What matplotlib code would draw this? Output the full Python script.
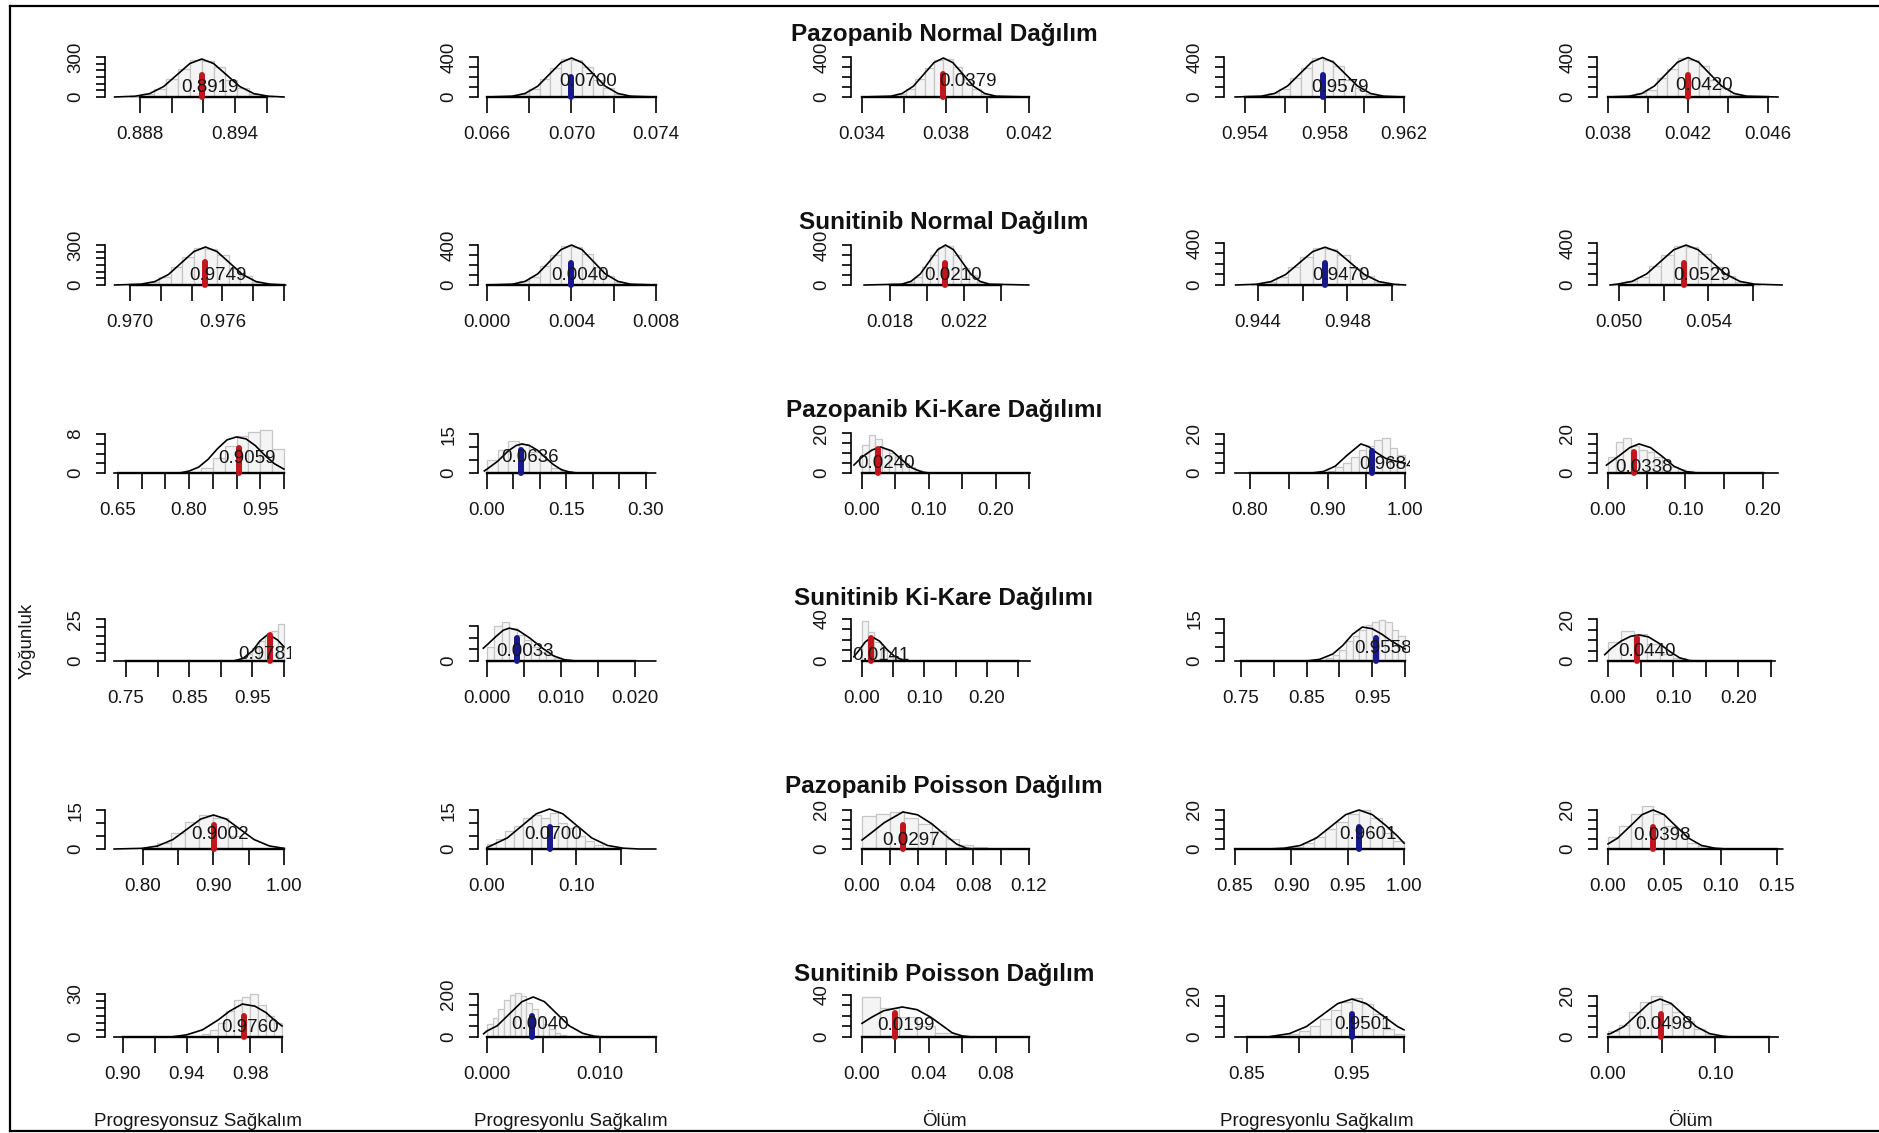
import numpy as np
import matplotlib
matplotlib.use('Agg')
import matplotlib.pyplot as plt
from matplotlib.lines import Line2D
from matplotlib.transforms import Bbox, TransformedBbox

plt.rcParams['font.family'] = ['Liberation Sans', 'DejaVu Sans']

# ---- text ----
row_titles = ['Pazopanib Normal Dağılım', 'Sunitinib Normal Dağılım',
              'Pazopanib Ki-Kare Dağılımı', 'Sunitinib Ki-Kare Dağılımı',
              'Pazopanib Poisson Dağılım', 'Sunitinib Poisson Dağılım']
col_xlabels = ['Progresyonsuz Sağkalım', 'Progresyonlu Sağkalım', 'Ölüm',
               'Progresyonlu Sağkalım', 'Ölüm']
y_title = 'Yoğunluk'

# ---- panels, row by row (6 rows x 5 cols) ----
x_limits = [
    (0.88579, 0.89754), (0.065574, 0.074379), (0.033473, 0.042383), (0.952943, 0.962302), (0.03745, 0.04675),
    (0.968377, 0.980455), (-0.000426, 0.008379), (0.015892, 0.025946), (0.942478, 0.950806), (0.049015, 0.057343),
    (0.62257, 1.01497), (-0.01698, 0.3340), (-0.01647, 0.26198), (0.76645, 1.00645), (-0.01419, 0.22581),
    (0.71677, 1.01108), (-0.001216, 0.023919), (-0.01763, 0.28045), (0.72409, 1.00763), (-0.01687, 0.26841),
    (0.7461, 1.00993), (-0.01008, 0.19821), (-0.0079, 0.12572), (0.84024, 1.00528), (-0.00976, 0.15528),
    (0.88868, 1.00566), (-0.0008, 0.01571), (-0.00659, 0.10479), (0.82803, 1.00568), (-0.01025, 0.16310),
]

x_ticks = [
    [0.888, 0.890, 0.892, 0.894, 0.896], [0.066, 0.068, 0.070, 0.072, 0.074], [0.034, 0.036, 0.038, 0.040, 0.042],
    [0.954, 0.956, 0.958, 0.960, 0.962], [0.038, 0.040, 0.042, 0.044, 0.046],
    [0.970, 0.972, 0.974, 0.976, 0.978, 0.980], [0.000, 0.002, 0.004, 0.006, 0.008], [0.018, 0.020, 0.022, 0.024],
    [0.944, 0.946, 0.948, 0.950], [0.050, 0.052, 0.054, 0.056],
    [0.65, 0.70, 0.75, 0.80, 0.85, 0.90, 0.95, 1.00], [0, 0.05, 0.10, 0.15, 0.20, 0.25, 0.30],
    [0, 0.05, 0.10, 0.15, 0.20, 0.25], [0.80, 0.85, 0.90, 0.95, 1.00], [0, 0.05, 0.10, 0.15, 0.20],
    [0.75, 0.80, 0.85, 0.90, 0.95, 1.00], [0, 0.005, 0.010, 0.015, 0.020], [0, 0.05, 0.10, 0.15, 0.20, 0.25],
    [0.75, 0.80, 0.85, 0.90, 0.95, 1.00], [0, 0.05, 0.10, 0.15, 0.20, 0.25],
    [0.80, 0.85, 0.90, 0.95, 1.00], [0, 0.05, 0.10, 0.15], [0, 0.02, 0.04, 0.06, 0.08, 0.10, 0.12],
    [0.85, 0.90, 0.95, 1.00], [0, 0.05, 0.10, 0.15],
    [0.90, 0.92, 0.94, 0.96, 0.98, 1.00], [0, 0.005, 0.010, 0.015], [0, 0.02, 0.04, 0.06, 0.08, 0.10],
    [0.85, 0.90, 0.95, 1.00], [0, 0.05, 0.10, 0.15],
]

x_labels = [
    ['0.888', '', '', '0.894', ''], ['0.066', '', '0.070', '', '0.074'], ['0.034', '', '0.038', '', '0.042'],
    ['0.954', '', '0.958', '', '0.962'], ['0.038', '', '0.042', '', '0.046'],
    ['0.970', '', '', '0.976', '', ''], ['0.000', '', '0.004', '', '0.008'], ['0.018', '', '0.022', ''],
    ['0.944', '', '0.948', ''], ['0.050', '', '0.054', ''],
    ['0.65', '', '', '0.80', '', '', '0.95', ''], ['0.00', '', '', '0.15', '', '', '0.30'],
    ['0.00', '', '0.10', '', '0.20', ''], ['0.80', '', '0.90', '', '1.00'], ['0.00', '', '0.10', '', '0.20'],
    ['0.75', '', '0.85', '', '0.95', ''], ['0.000', '', '0.010', '', '0.020'], ['0.00', '', '0.10', '', '0.20', ''],
    ['0.75', '', '0.85', '', '0.95', ''], ['0.00', '', '0.10', '', '0.20', ''],
    ['0.80', '', '0.90', '', '1.00'], ['0.00', '', '0.10', ''], ['0.00', '', '0.04', '', '0.08', '', '0.12'],
    ['0.85', '0.90', '0.95', '1.00'], ['0.00', '0.05', '0.10', '0.15'],
    ['0.90', '', '0.94', '', '0.98', ''], ['0.000', '', '0.010', ''], ['0.00', '', '0.04', '', '0.08', ''],
    ['0.85', '', '0.95', ''], ['0.00', '', '0.10', ''],
]

y_tops = [
    360, 480, 480, 480, 480,
    360, 480, 480, 457, 457,
    9.85, 18.5, 24, 24.6, 24.6,
    28.6, 206, 45.7, 17.1, 22.9,
    18.5, 18.5, 24.6, 24.6, 24.6,
    33.5, 223, 45.7, 23.4, 23.4,
]

y_ticks = [
    [0, 50, 100, 150, 200, 250, 300], [0, 100, 200, 300, 400], [0, 100, 200, 300, 400], [0, 100, 200, 300, 400], [0, 100, 200, 300, 400],
    [0, 50, 100, 150, 200, 250, 300], [0, 100, 200, 300, 400], [0, 100, 200, 300, 400], [0, 100, 200, 300, 400], [0, 100, 200, 300, 400],
    [0, 2, 4, 6, 8], [0, 5, 10, 15], [0, 5, 10, 15, 20], [0, 5, 10, 15, 20], [0, 5, 10, 15, 20],
    [0, 5, 10, 15, 20, 25], [0, 50, 100, 150], [0, 10, 20, 30, 40], [0, 5, 10, 15], [0, 5, 10, 15, 20],
    [0, 5, 10, 15], [0, 5, 10, 15], [0, 5, 10, 15, 20], [0, 5, 10, 15, 20], [0, 5, 10, 15, 20],
    [0, 5, 10, 15, 20, 25, 30], [0, 50, 100, 150, 200], [0, 10, 20, 30, 40], [0, 5, 10, 15, 20], [0, 5, 10, 15, 20],
]

y_top_labels = [
    '300', '400', '400', '400', '400',
    '300', '400', '400', '400', '400',
    '8', '15', '20', '20', '20',
    '25', '', '40', '15', '20',
    '15', '15', '20', '20', '20',
    '30', '200', '40', '20', '20',
]

curve_x = [
    [0.8864, 0.8877, 0.8886, 0.8895, 0.8904, 0.89115, 0.8919, 0.89265, 0.8934, 0.8943, 0.8952, 0.8961, 0.8971],
    [0.066, 0.0672, 0.0678, 0.0684, 0.0690, 0.0695, 0.0700, 0.0705, 0.0710, 0.0716, 0.0722, 0.0728, 0.074],
    [0.034, 0.03538, 0.03592, 0.03646, 0.0370, 0.03745, 0.0379, 0.03835, 0.0388, 0.03934, 0.03988, 0.04042, 0.042],
    [0.9535, 0.95482, 0.95548, 0.95614, 0.9568, 0.95735, 0.9579, 0.95845, 0.9590, 0.95966, 0.96032, 0.96098, 0.9620],
    [0.0380, 0.03906, 0.03969, 0.04032, 0.04095, 0.04148, 0.0420, 0.04253, 0.04305, 0.04368, 0.04431, 0.04494, 0.0465],
    [0.9690, 0.9707, 0.9716, 0.9725, 0.9734, 0.97415, 0.9749, 0.97565, 0.9764, 0.9773, 0.9782, 0.9791, 0.9801],
    [0.0, 0.0012, 0.0018, 0.0024, 0.0030, 0.0035, 0.0040, 0.0045, 0.0050, 0.0056, 0.0062, 0.0068, 0.008],
    [0.0166, 0.01862, 0.01913, 0.01964, 0.02015, 0.02058, 0.0210, 0.02143, 0.02185, 0.02236, 0.02287, 0.02338, 0.0255],
    [0.9430, 0.94392, 0.94458, 0.94524, 0.9459, 0.94645, 0.9470, 0.94755, 0.9481, 0.94876, 0.94942, 0.95008, 0.9506],
    [0.0496, 0.04992, 0.05058, 0.05124, 0.0519, 0.05245, 0.0530, 0.05355, 0.0541, 0.05476, 0.05542, 0.05608, 0.0573],
    [0.6416, 0.78, 0.80, 0.82, 0.84, 0.86, 0.88, 0.90, 0.92, 0.94, 0.96, 0.98, 1.0],
    [-0.005, 0.0, 0.02, 0.04, 0.055, 0.066, 0.08, 0.095, 0.11, 0.125, 0.14, 0.155, 0.17, 0.318],
    [-0.012, 0.0, 0.015, 0.028, 0.045, 0.06, 0.075, 0.09, 0.1, 0.2515],
    [0.7806, 0.88, 0.895, 0.91, 0.925, 0.943, 0.953, 0.963, 0.975, 0.988, 1.0],
    [-0.002, 0.0, 0.015, 0.028, 0.04, 0.055, 0.07, 0.085, 0.1, 0.115, 0.2193],
    [0.731, 0.92, 0.935, 0.95, 0.962, 0.975, 0.99, 1.0],
    [-0.0005, 0.0, 0.0012, 0.0022, 0.003, 0.0042, 0.0058, 0.0075, 0.009, 0.0105, 0.012, 0.0228],
    [-0.013, -0.005, 0.005, 0.016, 0.028, 0.04, 0.052, 0.065, 0.075, 0.2692],
    [0.7409, 0.85, 0.87, 0.89, 0.905, 0.92, 0.935, 0.95, 0.965, 0.98, 1.0],
    [-0.005, 0.005, 0.02, 0.035, 0.048, 0.062, 0.078, 0.095, 0.11, 0.125, 0.135, 0.2562],
    [0.759, 0.7992, 0.8208, 0.8424, 0.864, 0.882, 0.9, 0.918, 0.936, 0.9576, 0.9792, 1.0],
    [0.0, 0.0051, 0.0228, 0.0405, 0.05525, 0.07, 0.08475, 0.0995, 0.1172, 0.1349, 0.1526, 0.17, 0.189],
    [0.0, 0.008, 0.016, 0.0294, 0.04, 0.05, 0.06, 0.068, 0.075, 0.08, 0.12],
    [0.85, 0.88, 0.8936, 0.9079, 0.9221, 0.9363, 0.9482, 0.96, 0.9719, 0.9837, 0.9935, 1.0],
    [0.0, 0.0086, 0.0204, 0.0302, 0.04, 0.0498, 0.0596, 0.0714, 0.0831, 0.0949, 0.105, 0.155],
    [0.8943, 0.93, 0.94, 0.95, 0.96, 0.967, 0.975, 0.983, 0.99, 0.995, 1.0],
    [-0.0003, 0.0, 0.0009, 0.0021, 0.0031, 0.0041, 0.0051, 0.0061, 0.0073, 0.0085, 0.0095, 0.0102, 0.015],
    [0.0, 0.006, 0.013, 0.024, 0.033, 0.041, 0.048, 0.054, 0.06, 0.066, 0.10],
    [0.8385, 0.87, 0.8741, 0.8905, 0.9068, 0.9231, 0.9367, 0.9503, 0.9639, 0.9775, 0.9938, 1.0],
    [0.0, 0.0023, 0.0149, 0.0275, 0.038, 0.0485, 0.059, 0.0695, 0.0821, 0.0947, 0.1073, 0.115, 0.1585],
]

curve_y = [
    [0, 6, 25, 79, 173, 251, 285, 251, 173, 79, 25, 6, 0],
    [0, 8, 35, 108, 237, 344, 390, 344, 237, 108, 35, 8, 0],
    [0, 8, 35, 108, 237, 344, 390, 344, 237, 108, 35, 8, 0],
    [0, 8, 35, 110, 240, 348, 395, 348, 240, 110, 35, 8, 0],
    [0, 8, 35, 110, 240, 348, 395, 348, 240, 110, 35, 8, 0],
    [0, 6, 25, 79, 173, 251, 285, 251, 173, 79, 25, 6, 0],
    [0, 8, 36, 111, 243, 353, 400, 353, 243, 111, 36, 8, 0],
    [0, 8, 36, 111, 243, 353, 400, 353, 243, 111, 36, 8, 0],
    [0, 7, 32, 100, 219, 318, 360, 318, 219, 100, 32, 7, 0],
    [0, 8, 34, 106, 231, 335, 380, 335, 231, 106, 34, 8, 0],
    [0, 0, 0.4, 1.2, 2.8, 5.0, 6.8, 7.4, 7.0, 5.6, 3.6, 1.9, 0.8],
    [0.8, 1.5, 4.5, 8.5, 10.6, 11.2, 10.6, 8.8, 6.0, 3.3, 1.3, 0.4, 0, 0],
    [4, 8, 11.5, 13, 11, 6.5, 2.5, 0.5, 0, 0],
    [0, 0, 0.8, 3.5, 9, 14.9, 13.5, 10.5, 7.5, 6, 5],
    [4, 4.6, 9, 13, 14.9, 13, 8.5, 3.5, 0.8, 0, 0],
    [0, 0, 1.5, 6, 12, 16, 12.5, 8.4],
    [55, 69, 105, 132, 141, 132, 98, 55, 22, 5, 0, 0],
    [4, 10, 18, 23, 19, 11, 4.5, 1, 0, 0],
    [0, 0, 0.6, 2.5, 5.5, 9.5, 12.1, 11.5, 9.5, 7, 4.3],
    [3, 6, 9.5, 11.8, 12.4, 11.5, 8.5, 4.5, 1.5, 0.2, 0, 0],
    [0, 0.26, 1.17, 3.64, 7.95, 11.55, 13.1, 11.55, 7.95, 3.64, 1.17, 0.26],
    [0.6, 1.37, 4.28, 9.35, 13.58, 15.4, 13.58, 9.35, 4.28, 1.37, 0.31, 0, 0],
    [4.6, 9, 13.5, 19, 17.5, 13, 7, 2.5, 0.4, 0, 0],
    [0, 0, 0.4, 1.8, 5.6, 12.1, 17.6, 20, 17.6, 12.1, 7, 3],
    [2.6, 5.6, 12.1, 17.6, 20, 17.6, 12.1, 5.6, 1.8, 0.4, 0, 0],
    [0, 0, 1.5, 5, 12, 18, 23, 21.5, 17, 12, 7.7],
    [15, 28, 52, 113, 164, 186, 164, 113, 52, 17, 4, 0, 0],
    [13, 19, 25, 28.6, 26, 19, 11, 4, 1, 0, 0],
    [0, 0, 0.37, 1.65, 5.1, 11.2, 16.3, 18.5, 16.3, 11.2, 5.1, 3.5],
    [1.4, 1.65, 5.1, 11.2, 16.3, 18.5, 16.3, 11.2, 5.1, 1.65, 0.37, 0, 0],
]

hist_start = [
    0.8874, 0.067, 0.0352, 0.9546, 0.03885,
    0.9704, 0.001, 0.01845, 0.9437, 0.0497,
    0.80, 0.0, 0.0, 0.90, 0.0,
    0.92, 0.0, 0.0, 0.88, 0.0,
    0.80, 0.0, 0.0, 0.90, 0.0,
    0.95, 0.0, 0.0, 0.88, 0.0,
]
hist_width = [
    0.00075, 0.0005, 0.00045, 0.00055, 0.000525,
    0.00075, 0.0005, 0.000425, 0.00055, 0.00055,
    0.025, 0.02, 0.01, 0.01, 0.01,
    0.01, 0.001, 0.01, 0.01, 0.02,
    0.02, 0.01, 0.01, 0.01, 0.01,
    0.005, 0.0005, 0.011, 0.01, 0.01,
]
hist_heights = [
    [9, 26, 57, 134, 211, 279, 271, 222, 125, 66, 20, 9],
    [12, 35, 78, 183, 289, 382, 371, 304, 172, 90, 27, 12],
    [14, 31, 82, 176, 295, 375, 380, 298, 180, 84, 30, 10],
    [12, 36, 79, 186, 292, 387, 375, 308, 174, 91, 28, 12],
    [10, 40, 75, 190, 285, 392, 368, 312, 170, 95, 25, 13],
    [9, 26, 57, 134, 211, 279, 271, 222, 125, 66, 20, 9],
    [12, 36, 80, 188, 296, 392, 380, 312, 176, 92, 28, 12],
    [14, 33, 84, 182, 300, 385, 388, 305, 170, 96, 26, 11],
    [11, 32, 72, 169, 266, 353, 342, 281, 158, 83, 25, 11],
    [11, 34, 76, 179, 281, 372, 361, 296, 167, 87, 27, 11],
    [0.3, 1.0, 3.0, 5.5, 7.5, 8.5, 8.8, 5.0],
    [5, 9, 12.5, 11, 8, 5, 2, 0.8],
    [14, 19, 17, 12, 10, 8, 5, 3, 1.5, 0.5],
    [1, 3, 5, 8, 12, 14, 17, 18, 13, 9],
    [8, 16, 18, 14, 12, 11, 8, 6, 3, 2, 1, 0.5],
    [0.5, 1.5, 4, 8, 12, 15, 18, 22],
    [60, 150, 168, 140, 110, 90, 60, 40, 25, 15, 8, 4],
    [38, 28, 18, 10, 4, 1.5, 0.5],
    [1, 2, 4, 7, 9, 11, 13, 14, 14.5, 14, 11, 9],
    [9, 14.5, 13, 8, 3.5, 1.5, 0.5],
    [0.5, 2.5, 6, 10.5, 13, 12, 5, 0.5],
    [2, 4, 7, 9, 12, 13, 12, 14, 10, 8, 5, 3, 1.5, 0.5],
    [17, 18, 19, 16, 13, 9, 5, 2, 1],
    [1, 3, 6, 10, 14, 18, 20, 16, 8, 4],
    [6, 12, 18, 22, 18, 12, 7, 3, 1.5, 0.5],
    [2, 5, 10, 18, 26, 28, 30, 22, 15, 10],
    [60, 90, 130, 170, 195, 205, 190, 160, 130, 95, 60, 35, 18, 8],
    [38, 28, 19, 10, 4, 1],
    [0.5, 1.5, 3, 5.5, 9, 13, 17, 19, 16, 11, 4, 1.5],
    [3, 6, 12, 17, 20, 16, 12, 8, 4, 1.5, 0.5],
]

mean_values = [
    0.8919, 0.0700, 0.0379, 0.9579, 0.0420,
    0.9749, 0.0040, 0.0210, 0.9470, 0.0529,
    0.9059, 0.0636, 0.0240, 0.9568, 0.0338,
    0.9781, 0.0040, 0.0141, 0.9558, 0.0440,
    0.9002, 0.0700, 0.0297, 0.9601, 0.0398,
    0.9760, 0.0040, 0.0199, 0.9501, 0.0498,
]
mean_tops = [
    165, 200, 230, 220, 220,
    172, 220, 220, 210, 210,
    5.1, 8.8, 12, 11.3, 11,
    15.5, 99, 22, 8.2, 11,
    9.2, 8.5, 12.3, 11.3, 11.3,
    14.7, 98, 22.9, 11.2, 11.2,
]
value_labels = [
    '0.8919', '0.0700', '0.0379', '0.9579', '0.0420',
    '0.9749', '0.0040', '0.0210', '0.9470', '0.0529',
    '0.9059', '0.0636', '0.0240', '0.9684', '0.0338',
    '0.9781', '0.0033', '0.0141', '0.9558', '0.0440',
    '0.9002', '0.0700', '0.0297', '0.9601', '0.0398',
    '0.9760', '0.0040', '0.0199', '0.9501', '0.0498',
]
label_x = [
    0.8924, 0.0708, 0.0391, 0.9588, 0.0428,
    0.9757, 0.0044, 0.0214, 0.9477, 0.0537,
    0.923, 0.081, 0.036, 0.978, 0.047,
    0.973, 0.0051, 0.030, 0.967, 0.060,
    0.909, 0.074, 0.0352, 0.968, 0.0475,
    0.980, 0.0047, 0.0265, 0.961, 0.0525,
]
label_y = [
    68, 150, 150, 100, 110,
    75, 100, 100, 86, 86,
    2.9, 5.8, 5, 4.6, 2.6,
    3.6, 39, 5.7, 4.3, 4.3,
    5.4, 5.4, 4.6, 7.2, 6.7,
    6.3, 60, 10.5, 6.3, 6.3,
]

# ---- layout (pixels) ----
W, H = 1879, 1133
col_left = [105, 478, 851, 1224, 1597]
row_base = [97 + 188 * r for r in range(6)]
PW, PH = 186, 48
line_cols = ['#c3161c', '#17178e', '#c3161c', '#17178e', '#c3161c']
txt_col = '#161616'

fig = plt.figure(figsize=(W / 100, H / 100), dpi=100)

for p in range(30):
    r, c = divmod(p, 5)
    ax = fig.add_axes([col_left[c] / W, 1 - row_base[r] / H, PW / W, PH / H])
    ax.set_xlim(*x_limits[p])
    ax.set_ylim(0, y_tops[p])
    ax.patch.set_visible(False)

    # histogram
    hh = hist_heights[p]
    edges = hist_start[p] + hist_width[p] * np.arange(len(hh))
    ax.bar(edges, hh, width=hist_width[p], align='edge', facecolor='#f4f4f4',
           edgecolor='#c6c6c6', linewidth=0.9, zorder=1, clip_on=False)

    # density curve
    ax.plot(curve_x[p], curve_y[p], color='black', lw=1.2, zorder=3, clip_on=False)

    # mean line
    ax.plot([mean_values[p], mean_values[p]], [0, mean_tops[p]], color=line_cols[c],
            lw=4.3, solid_capstyle='round', zorder=4, clip_on=False)

    # value label, clipped at right edge like R's plot region
    t = ax.text(label_x[p], label_y[p], value_labels[p], ha='center', va='center',
                fontsize=13.5, color=txt_col, zorder=5, clip_on=True)
    t.set_clip_path(None)
    t.set_clip_box(TransformedBbox(Bbox([[-0.5, -2.0], [1.0, 3.0]]), ax.transAxes))

    # axes
    for s in ['top', 'right']:
        ax.spines[s].set_visible(False)
    ax.spines['left'].set_bounds(0, y_ticks[p][-1])
    ax.spines['bottom'].set_bounds(x_ticks[p][0], x_ticks[p][-1])
    ax.spines['left'].set_linewidth(1.2)
    ax.spines['bottom'].set_linewidth(1.7)

    ax.set_xticks(x_ticks[p])
    ax.set_xticklabels(x_labels[p])
    yl = [''] * len(y_ticks[p])
    yl[0] = '0'
    yl[-1] = y_top_labels[p]
    ax.set_yticks(y_ticks[p])
    ax.set_yticklabels(yl, rotation=90, va='center')
    ax.tick_params(axis='x', length=11.5, width=1.2, pad=9.5, labelsize=13.5, labelcolor=txt_col)
    ax.tick_params(axis='y', length=6.5, width=1.2, pad=8.5, labelsize=13.5, labelcolor=txt_col)

# titles over the middle column
for r in range(6):
    fig.text((col_left[2] + PW / 2) / W, 1 - (row_base[r] - 62) / H, row_titles[r],
             ha='center', va='center', fontsize=17.5, fontweight='bold', color='#111111')

for c in range(5):
    fig.text((col_left[c] + PW / 2) / W, 1 - 1122 / H, col_xlabels[c],
             ha='center', va='center', fontsize=13.5, color=txt_col)

fig.text(27 / W, 1 - 641 / H, y_title, rotation=90, ha='center', va='center',
         fontsize=13.5, color=txt_col)

# outer frame (left, top, bottom)
for xs, ys in [([10, 10], [6, 1131]), ([10, W], [6, 6]), ([10, W], [1131, 1131])]:
    fig.add_artist(Line2D([x / W for x in xs], [1 - y / H for y in ys],
                          transform=fig.transFigure, color='black', lw=1.6))

fig.savefig('out.png', dpi=100)
